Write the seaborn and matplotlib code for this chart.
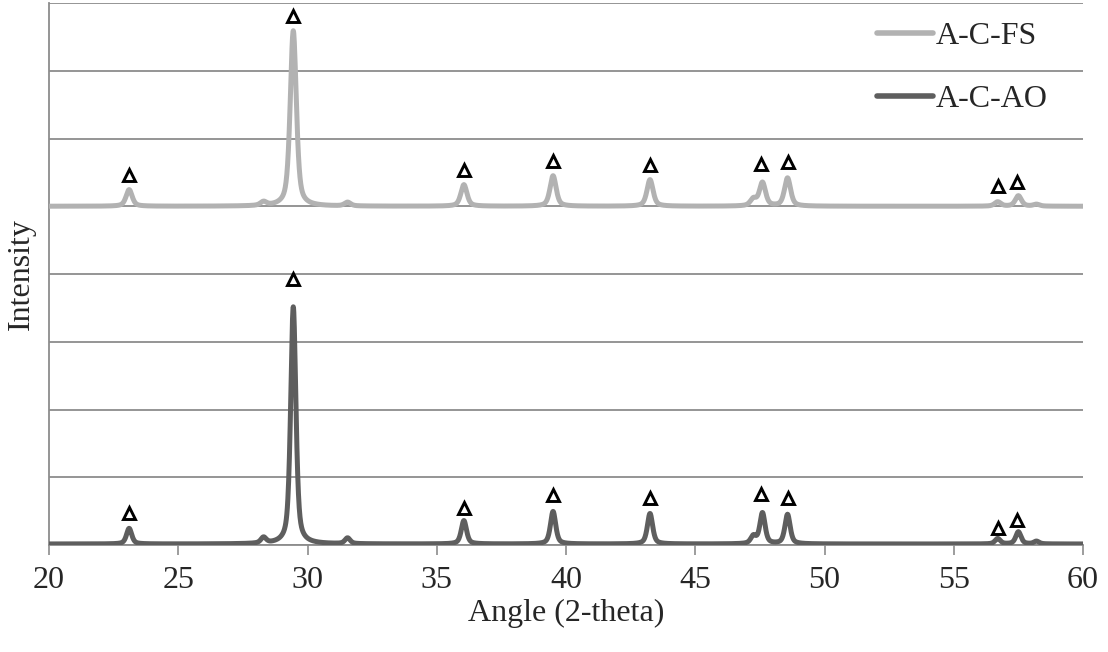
import numpy as np
import pandas as pd
import matplotlib
matplotlib.use("Agg")
import matplotlib.pyplot as plt
import seaborn as sns

# ---- data ----
samples = ["A-C-FS", "A-C-AO"]
peak_angles = [23.1, 28.3, 29.45, 31.55, 36.05, 39.5, 43.25, 47.25, 47.6, 48.57, 56.7, 57.5, 58.2]
ao_peak_heights = [230, 85, 3500, 85, 345, 480, 450, 110, 455, 435, 80, 180, 40]
fs_peak_heights = [245, 55, 2590, 55, 318, 450, 392, 100, 345, 415, 65, 155, 28]
ao_fwhm = 0.24
fs_fwhm = 0.28
ao_offset = 15
fs_offset = 5000

marker_angles = [23.1, 29.45, 36.05, 39.5, 43.25, 47.55, 48.57, 56.7, 57.45]
ao_marker_y = [472, 3926, 546, 738, 694, 753, 694, 251, 369]
fs_marker_y = [5461, 7808, 5535, 5668, 5609, 5624, 5653, 5299, 5358]

x_ticks = [20, 25, 30, 35, 40, 45, 50, 55, 60]

# ---- build profiles from the peak list (pseudo-Voigt peaks) ----
angle = np.arange(20.0, 60.0001, 0.01)

def profile(heights, fwhm, offset):
    y = np.full_like(angle, float(offset))
    g = fwhm / 2.0
    for c, h in zip(peak_angles, heights):
        lor = 1.0 / (1.0 + ((angle - c) / g) ** 2)
        gau = np.exp(-np.log(2) * ((angle - c) / g) ** 2)
        y += h * (0.55 * lor + 0.45 * gau)
    return y

df = pd.concat([
    pd.DataFrame({"Angle": angle, "Intensity": profile(fs_peak_heights, fs_fwhm, fs_offset), "Sample": samples[0]}),
    pd.DataFrame({"Angle": angle, "Intensity": profile(ao_peak_heights, ao_fwhm, ao_offset), "Sample": samples[1]}),
])

sns.set_theme(style="white")
plt.rcParams["font.family"] = ["Liberation Serif", "DejaVu Serif"]

fig = plt.figure(figsize=(11.08, 6.52), dpi=100)
ax = fig.add_axes([49 / 1108, 1 - 545 / 652, (1083 - 49) / 1108, (545 - 3) / 652])

sns.lineplot(data=df, x="Angle", y="Intensity", hue="Sample", hue_order=samples,
             palette={"A-C-FS": "#b2b2b2", "A-C-AO": "#5e5e5e"},
             linewidth=3.6, ax=ax, estimator=None, sort=False, zorder=3)

ax.plot(marker_angles, fs_marker_y, linestyle="none", marker="^", markersize=9,
        markerfacecolor="white", markeredgecolor="black", markeredgewidth=2.1, zorder=4)
ax.plot(marker_angles, ao_marker_y, linestyle="none", marker="^", markersize=9,
        markerfacecolor="white", markeredgecolor="black", markeredgewidth=2.1, zorder=4)

ax.set_xlim(20, 60)
ax.set_ylim(0, 8000)
ax.set_xticks(x_ticks)
ax.set_xticklabels([str(t) for t in x_ticks])
ax.set_yticks(np.arange(0, 8001, 1000))
ax.set_yticklabels([])
ax.grid(axis="y", color="#8c8c8c", linewidth=1.3)
ax.grid(axis="x", visible=False)
ax.set_axisbelow(True)

for s in ["top", "right"]:
    ax.spines[s].set_visible(False)
for s in ["left", "bottom"]:
    ax.spines[s].set_color("#8c8c8c")
    ax.spines[s].set_linewidth(1.3)

ax.tick_params(axis="x", direction="out", length=7, width=1.2, color="#8c8c8c",
               labelsize=23, pad=8, bottom=True)
ax.tick_params(axis="y", length=0, left=False)

ax.set_xlabel("Angle (2-theta)", fontsize=23, labelpad=3)
ax.set_ylabel("Intensity", fontsize=23, labelpad=6)

handles, labels = ax.get_legend_handles_labels()
leg = ax.legend(handles, labels, loc="upper left",
                bbox_to_anchor=(877 / 1108, 1 - 22 / 652), bbox_transform=fig.transFigure,
                frameon=False, fontsize=23, handlelength=1.75, handletextpad=0.1,
                labelspacing=1.05, borderpad=0, borderaxespad=0)
for line in leg.get_lines():
    line.set_linewidth(4)

fig.savefig("out.png", dpi=100)
